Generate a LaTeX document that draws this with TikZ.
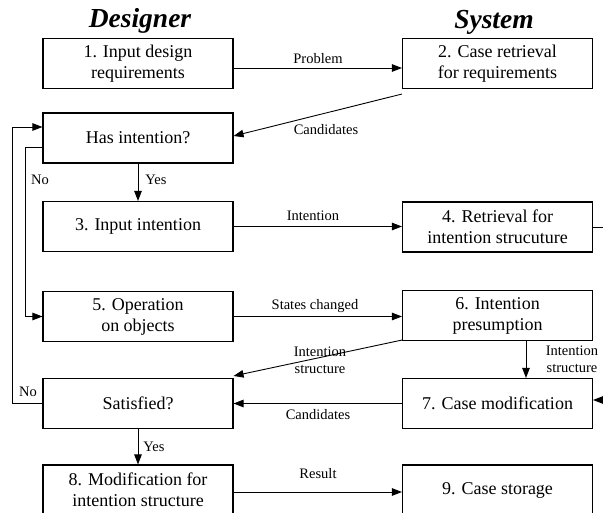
\documentclass[tikz,border=0pt]{standalone}
\usepackage{fontspec}
\setmainfont{Liberation Serif}
\usetikzlibrary{arrows.meta}
\begin{document}
\begin{tikzpicture}[x=1pt,y=-1pt,
  box/.style={draw,line width=1.1pt,minimum width=190pt,minimum height=50pt,inner sep=0pt,align=center,font=\fontsize{18}{21}\selectfont},
  lbl/.style={inner sep=0pt,align=center,font=\fontsize{14.5}{17}\selectfont},
  ttl/.style={inner sep=0pt,font=\fontsize{27.5}{30}\selectfont\bfseries\itshape},
  conn/.style={line width=0.9pt},
  arr/.style={conn,-{Triangle[length=10pt,width=7.5pt]}}]
\useasboundingbox (0,0) rectangle (603,513);
\node[ttl] (designer) at (140,21) {Designer};
\node[ttl] (system) at (494,22) {System};
\node[box] (b1) at (138,63.5) {1. Input design\\requirements};
\node[box] (b2) at (497.5,63.5) {2. Case retrieval\\for requirements};
\node[box] (hi) at (138,138) {Has intention?};
\node[box] (b3) at (138,226.5) {3. Input intention};
\node[box] (b4) at (497.5,227) {4. Retrieval for\\intention strucuture};
\node[box] (b5) at (138,316.5) {5. Operation\\on objects};
\node[box] (b6) at (497.5,315.5) {6. Intention\\presumption};
\node[box] (sat) at (138,403.5) {Satisfied?};
\node[box] (b7) at (497.5,403.5) {7. Case modification};
\node[box] (b8) at (138,490) {8. Modification for\\intention structure};
\node[box] (b9) at (497.5,490) {9. Case storage};
% labels
\node[lbl] (lproblem) at (318,59) {Problem};
\node[lbl] (lcand1) at (326,130) {Candidates};
\node[lbl] (lyes1) at (156,180) {Yes};
\node[lbl] (lno1) at (40,180) {No};
\node[lbl] (lno2) at (28,392) {No};
\node[lbl] (lint) at (313,216) {Intention};
\node[lbl] (lstates) at (315,306) {States changed};
\node[lbl] (lis6) at (320,360) {Intention\\structure};
\node[lbl] (lis7) at (572,359) {Intention\\structure};
\node[lbl] (lcand2) at (318,415) {Candidates};
\node[lbl] (lyes2) at (154,447) {Yes};
\node[lbl] (lresult) at (318,474) {Result};
% connectors
\draw[arr] ([yshift=-4.5pt]b1.east) -- ([yshift=-4.5pt]b2.west);
\draw[arr] ([yshift=-5pt]b2.south west) -- ([yshift=2pt]hi.east);
\draw[arr] (hi.south) -- (b3.north);
\draw[arr] ([yshift=-9pt]hi.west) -- ++(-17,0) |- (b5.west);
\draw[arr] (sat.west) -- ++(-30,0) |- ([yshift=11pt]hi.west);
\draw[arr] (b3.east) -- (b3.east -| b4.west);
\draw[arr] (b5.east) -- (b5.east -| b6.west);
\draw[arr] ([yshift=1pt]b6.south west) -- ([yshift=2pt]sat.north east);
\draw[arr] ([xshift=28.5pt]b6.south) -- ([xshift=28.5pt]b7.north);
\draw[arr] (b7.west) -- (sat.east);
\draw[arr] (sat.south) -- (b8.north);
\draw[arr] ([yshift=-2pt]b8.east) -- ([yshift=-2pt]b9.west);
\coordinate (r4) at (604,227);
\coordinate (r7) at (604,400);
\draw[conn] (b4.east) -- (r4);
\draw[arr] (r7) -- (r7 -| b7.east);
\end{tikzpicture}
\end{document}
